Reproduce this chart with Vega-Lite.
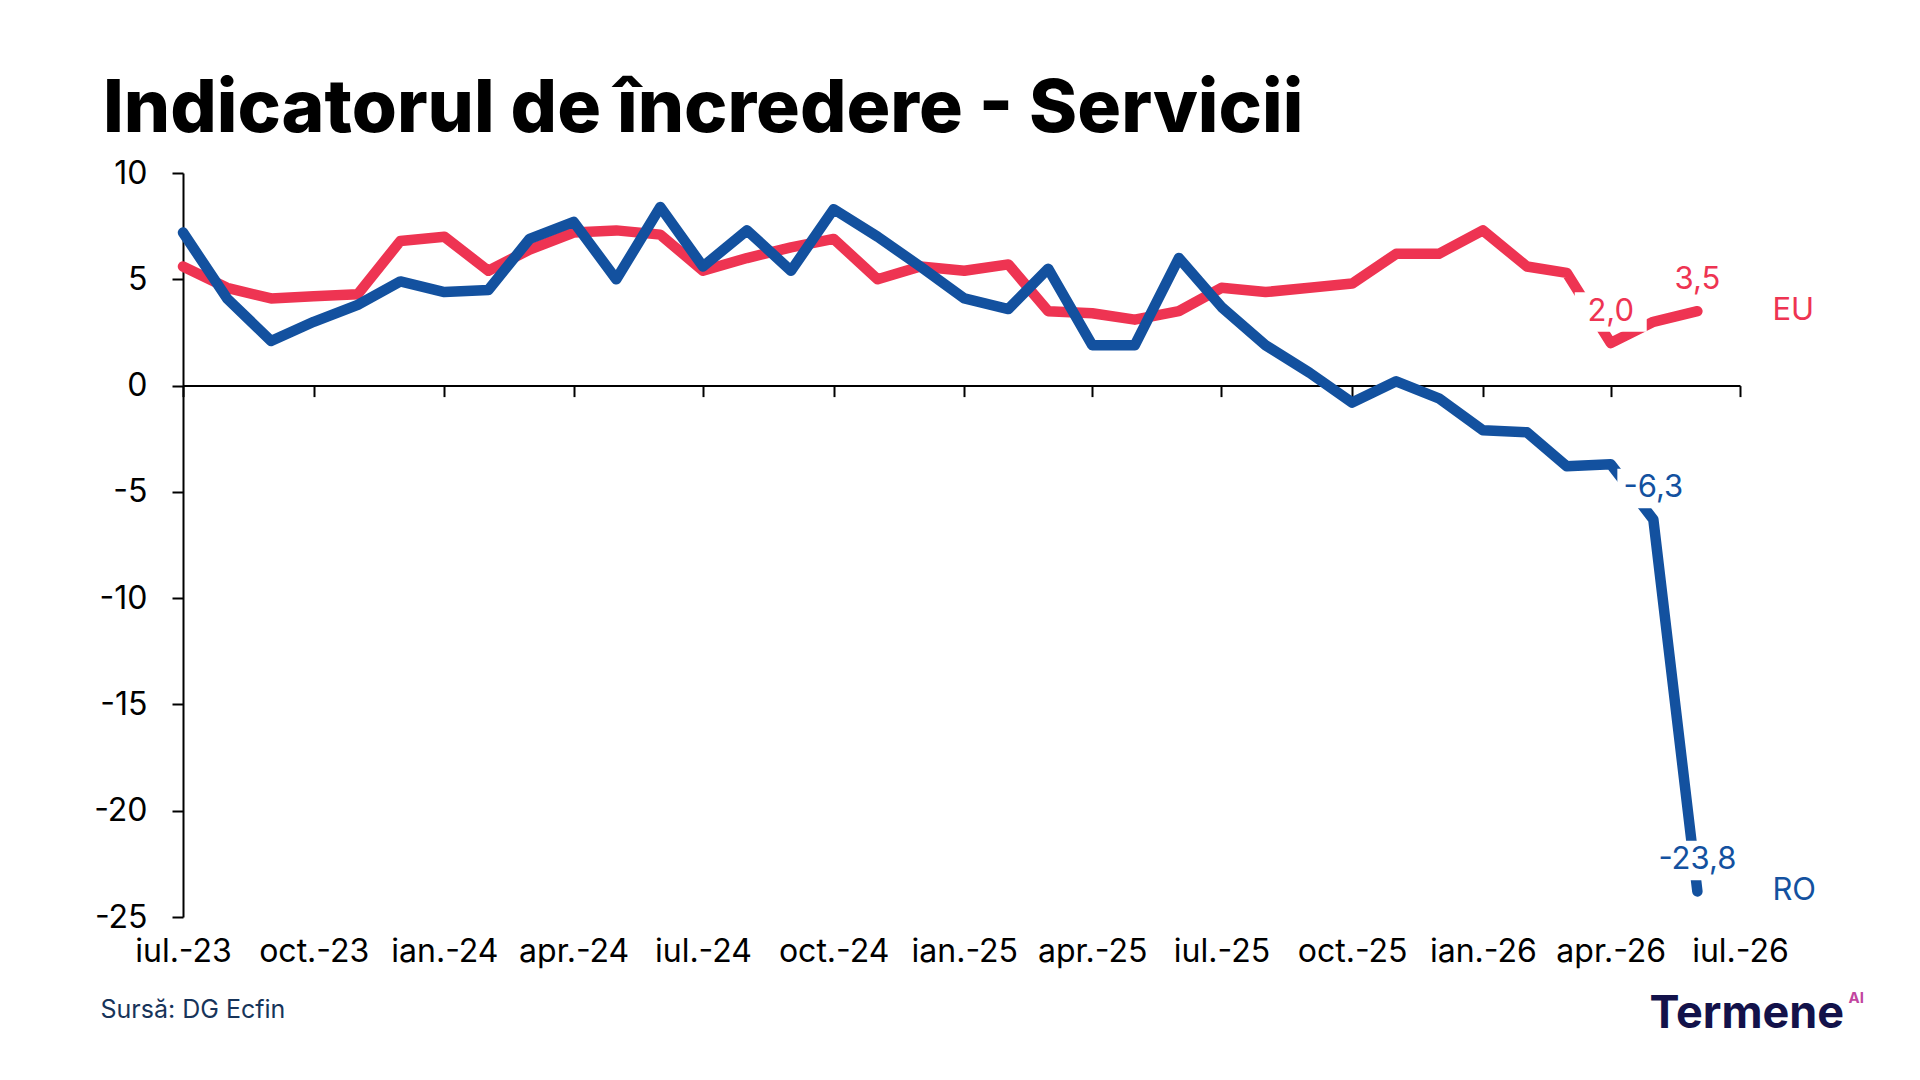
{
  "$schema": "https://vega.github.io/schema/vega-lite/v6.json",
  "width": 1557,
  "height": 744,
  "autosize": {"type": "none"},
  "padding": {"left": 183, "top": 173, "right": 180, "bottom": 163},
  "background": "white",
  "title": {
    "text": "Indicatorul de încredere - Servicii",
    "anchor": "start",
    "frame": "group",
    "dx": -80,
    "dy": 78,
    "offset": 30,
    "font": "Inter",
    "fontSize": 73,
    "fontWeight": 800,
    "color": "#000000",
    "baseline": "alphabetic"
  },
  "config": {
    "view": {"stroke": null},
    "locale": {"number": {"decimal": ",", "thousands": ".", "grouping": [3], "currency": ["", ""], "minus": "-"}},
    "axis": {"labelFont": "Inter", "labelFontSize": 32, "labelColor": "#000000", "titleFont": "Inter", "grid": false, "domainColor": "#000000", "tickColor": "#000000", "domainWidth": 2, "tickWidth": 2}
  },
  "datasets": {
    "series": [
      {"date": "2023-07-01", "series": "EU", "value": 5.6}, {"date": "2023-08-01", "series": "EU", "value": 4.6},
      {"date": "2023-09-01", "series": "EU", "value": 4.1}, {"date": "2023-10-01", "series": "EU", "value": 4.2},
      {"date": "2023-11-01", "series": "EU", "value": 4.3}, {"date": "2023-12-01", "series": "EU", "value": 6.8},
      {"date": "2024-01-01", "series": "EU", "value": 7.0}, {"date": "2024-02-01", "series": "EU", "value": 5.4},
      {"date": "2024-03-01", "series": "EU", "value": 6.4}, {"date": "2024-04-01", "series": "EU", "value": 7.2},
      {"date": "2024-05-01", "series": "EU", "value": 7.3}, {"date": "2024-06-01", "series": "EU", "value": 7.1},
      {"date": "2024-07-01", "series": "EU", "value": 5.4}, {"date": "2024-08-01", "series": "EU", "value": 6.0},
      {"date": "2024-09-01", "series": "EU", "value": 6.5}, {"date": "2024-10-01", "series": "EU", "value": 6.9},
      {"date": "2024-11-01", "series": "EU", "value": 5.0}, {"date": "2024-12-01", "series": "EU", "value": 5.6},
      {"date": "2025-01-01", "series": "EU", "value": 5.4}, {"date": "2025-02-01", "series": "EU", "value": 5.7},
      {"date": "2025-03-01", "series": "EU", "value": 3.5}, {"date": "2025-04-01", "series": "EU", "value": 3.4},
      {"date": "2025-05-01", "series": "EU", "value": 3.1}, {"date": "2025-06-01", "series": "EU", "value": 3.5},
      {"date": "2025-07-01", "series": "EU", "value": 4.6}, {"date": "2025-08-01", "series": "EU", "value": 4.4},
      {"date": "2025-09-01", "series": "EU", "value": 4.6}, {"date": "2025-10-01", "series": "EU", "value": 4.8},
      {"date": "2025-11-01", "series": "EU", "value": 6.2}, {"date": "2025-12-01", "series": "EU", "value": 6.2},
      {"date": "2026-01-01", "series": "EU", "value": 7.3}, {"date": "2026-02-01", "series": "EU", "value": 5.6},
      {"date": "2026-03-01", "series": "EU", "value": 5.3}, {"date": "2026-04-01", "series": "EU", "value": 2.0},
      {"date": "2026-05-01", "series": "EU", "value": 3.0}, {"date": "2026-06-01", "series": "EU", "value": 3.5},
      {"date": "2023-07-01", "series": "RO", "value": 7.2}, {"date": "2023-08-01", "series": "RO", "value": 4.1},
      {"date": "2023-09-01", "series": "RO", "value": 2.1}, {"date": "2023-10-01", "series": "RO", "value": 3.0},
      {"date": "2023-11-01", "series": "RO", "value": 3.8}, {"date": "2023-12-01", "series": "RO", "value": 4.9},
      {"date": "2024-01-01", "series": "RO", "value": 4.4}, {"date": "2024-02-01", "series": "RO", "value": 4.5},
      {"date": "2024-03-01", "series": "RO", "value": 6.9}, {"date": "2024-04-01", "series": "RO", "value": 7.7},
      {"date": "2024-05-01", "series": "RO", "value": 5.0}, {"date": "2024-06-01", "series": "RO", "value": 8.4},
      {"date": "2024-07-01", "series": "RO", "value": 5.6}, {"date": "2024-08-01", "series": "RO", "value": 7.3},
      {"date": "2024-09-01", "series": "RO", "value": 5.4}, {"date": "2024-10-01", "series": "RO", "value": 8.3},
      {"date": "2024-11-01", "series": "RO", "value": 7.0}, {"date": "2024-12-01", "series": "RO", "value": 5.6},
      {"date": "2025-01-01", "series": "RO", "value": 4.1}, {"date": "2025-02-01", "series": "RO", "value": 3.6},
      {"date": "2025-03-01", "series": "RO", "value": 5.5}, {"date": "2025-04-01", "series": "RO", "value": 1.9},
      {"date": "2025-05-01", "series": "RO", "value": 1.9}, {"date": "2025-06-01", "series": "RO", "value": 6.0},
      {"date": "2025-07-01", "series": "RO", "value": 3.7}, {"date": "2025-08-01", "series": "RO", "value": 1.9},
      {"date": "2025-09-01", "series": "RO", "value": 0.6}, {"date": "2025-10-01", "series": "RO", "value": -0.8},
      {"date": "2025-11-01", "series": "RO", "value": 0.2}, {"date": "2025-12-01", "series": "RO", "value": -0.6},
      {"date": "2026-01-01", "series": "RO", "value": -2.1}, {"date": "2026-02-01", "series": "RO", "value": -2.2},
      {"date": "2026-03-01", "series": "RO", "value": -3.8}, {"date": "2026-04-01", "series": "RO", "value": -3.7},
      {"date": "2026-05-01", "series": "RO", "value": -6.3}, {"date": "2026-06-01", "series": "RO", "value": -23.8}
    ],
    "labeled": [
      {"date": "2026-04-01", "series": "EU", "value": 2.0},
      {"date": "2026-06-01", "series": "EU", "value": 3.5},
      {"date": "2026-05-01", "series": "RO", "value": -6.3},
      {"date": "2026-06-01", "series": "RO", "value": -23.8}
    ],
    "ends": [
      {"date": "2026-06-01", "series": "EU", "value": 3.5},
      {"date": "2026-06-01", "series": "RO", "value": -23.8}
    ]
  },
  "layer": [
    {
      "data": {"name": "series"},
      "transform": [{"filter": {"field": "series", "equal": "EU"}}],
      "mark": {"type": "line", "color": "#EE3452", "strokeWidth": 10.5, "strokeCap": "round", "strokeJoin": "round"},
      "encoding": {
        "x": {
          "field": "date", "type": "temporal",
          "scale": {"type": "utc", "domain": [{"year": 2023, "month": 7, "date": 1, "utc": true}, {"year": 2026, "month": 7, "date": 1, "utc": true}], "nice": false},
          "axis": {
            "title": "Termene", "titleX": 1466, "titleY": 110, "titleAlign": "left", "titleBaseline": "alphabetic", "titleAngle": 0,
            "titleFont": "Inter", "titleFontSize": 45, "titleFontWeight": 700, "titleColor": "#13124A",
            "values": [
              {"year": 2023, "month": 7, "date": 1, "utc": true}, {"year": 2023, "month": 10, "date": 1, "utc": true},
              {"year": 2024, "month": 1, "date": 1, "utc": true}, {"year": 2024, "month": 4, "date": 1, "utc": true},
              {"year": 2024, "month": 7, "date": 1, "utc": true}, {"year": 2024, "month": 10, "date": 1, "utc": true},
              {"year": 2025, "month": 1, "date": 1, "utc": true}, {"year": 2025, "month": 4, "date": 1, "utc": true},
              {"year": 2025, "month": 7, "date": 1, "utc": true}, {"year": 2025, "month": 10, "date": 1, "utc": true},
              {"year": 2026, "month": 1, "date": 1, "utc": true}, {"year": 2026, "month": 4, "date": 1, "utc": true},
              {"year": 2026, "month": 7, "date": 1, "utc": true}
            ],
            "labelExpr": "['ian.','feb.','mar.','apr.','mai','iun.','iul.','aug.','sep.','oct.','nov.','dec.'][utcmonth(datum.value)] + '-' + utcFormat(datum.value, '%y')",
            "orient": "bottom", "domain": false, "ticks": false, "tickSize": 0, "labelPadding": 19,
            "labelFlush": false, "labelOverlap": false, "labelBound": false
          }
        },
        "y": {
          "field": "value", "type": "quantitative",
          "scale": {"domain": [-25, 10], "nice": false, "zero": false},
          "axis": {
            "values": [-25, -20, -15, -10, -5, 0, 5, 10],
            "labelExpr": "'' + datum.value",
            "tickSize": 11, "labelPadding": 25,
            "title": "Sursă: DG Ecfin", "titleAngle": 0, "titleX": -83, "titleY": 836, "titleAlign": "left", "titleBaseline": "middle",
            "titleFont": "Inter", "titleFontSize": 25, "titleFontWeight": "normal", "titleColor": "#17345A"
          }
        }
      }
    },
    {
      "data": {"name": "series"},
      "transform": [{"filter": {"field": "series", "equal": "RO"}}],
      "mark": {"type": "line", "color": "#13519F", "strokeWidth": 10.5, "strokeCap": "round", "strokeJoin": "round"},
      "encoding": {
        "x": {
          "field": "date", "type": "temporal",
          "axis": {
            "orient": "bottom", "offset": -531.4, "labels": false, "tickSize": 11,
            "values": [
              {"year": 2023, "month": 7, "date": 1, "utc": true}, {"year": 2023, "month": 10, "date": 1, "utc": true},
              {"year": 2024, "month": 1, "date": 1, "utc": true}, {"year": 2024, "month": 4, "date": 1, "utc": true},
              {"year": 2024, "month": 7, "date": 1, "utc": true}, {"year": 2024, "month": 10, "date": 1, "utc": true},
              {"year": 2025, "month": 1, "date": 1, "utc": true}, {"year": 2025, "month": 4, "date": 1, "utc": true},
              {"year": 2025, "month": 7, "date": 1, "utc": true}, {"year": 2025, "month": 10, "date": 1, "utc": true},
              {"year": 2026, "month": 1, "date": 1, "utc": true}, {"year": 2026, "month": 4, "date": 1, "utc": true},
              {"year": 2026, "month": 7, "date": 1, "utc": true}
            ],
            "title": "AI", "titleX": 1665, "titleY": 617, "titleAlign": "left", "titleBaseline": "alphabetic", "titleAngle": 0,
            "titleFont": "Inter", "titleFontSize": 15, "titleFontWeight": 700, "titleColor": "#C2459F"
          }
        },
        "y": {"field": "value", "type": "quantitative"}
      }
    },
    {
      "data": {"name": "labeled"},
      "mark": {"type": "point", "shape": "M-1,-0.55L1,-0.55L1,0.55L-1,0.55Z", "size": 5184, "filled": true, "color": "#FFFFFF", "opacity": 1, "strokeWidth": 0, "yOffset": -31},
      "encoding": {
        "x": {"field": "date", "type": "temporal", "axis": null},
        "y": {"field": "value", "type": "quantitative"}
      }
    },
    {
      "data": {"name": "labeled"},
      "mark": {"type": "text", "font": "Inter", "fontSize": 31, "align": "center", "baseline": "middle", "dy": -31},
      "encoding": {
        "x": {"field": "date", "type": "temporal", "axis": null},
        "y": {"field": "value", "type": "quantitative"},
        "text": {"field": "value", "type": "quantitative", "format": ".1f"},
        "color": {"field": "series", "type": "nominal", "scale": {"domain": ["EU", "RO"], "range": ["#EE3452", "#13519F"]}, "legend": null}
      }
    },
    {
      "data": {"name": "ends"},
      "mark": {"type": "text", "font": "Inter", "fontSize": 31, "align": "left", "baseline": "middle", "dx": 75},
      "encoding": {
        "x": {"field": "date", "type": "temporal", "axis": null},
        "y": {"field": "value", "type": "quantitative"},
        "text": {"field": "series", "type": "nominal"},
        "color": {"field": "series", "type": "nominal", "scale": {"domain": ["EU", "RO"], "range": ["#EE3452", "#13519F"]}, "legend": null}
      }
    }
  ],
  "resolve": {"axis": {"x": "independent"}}
}
